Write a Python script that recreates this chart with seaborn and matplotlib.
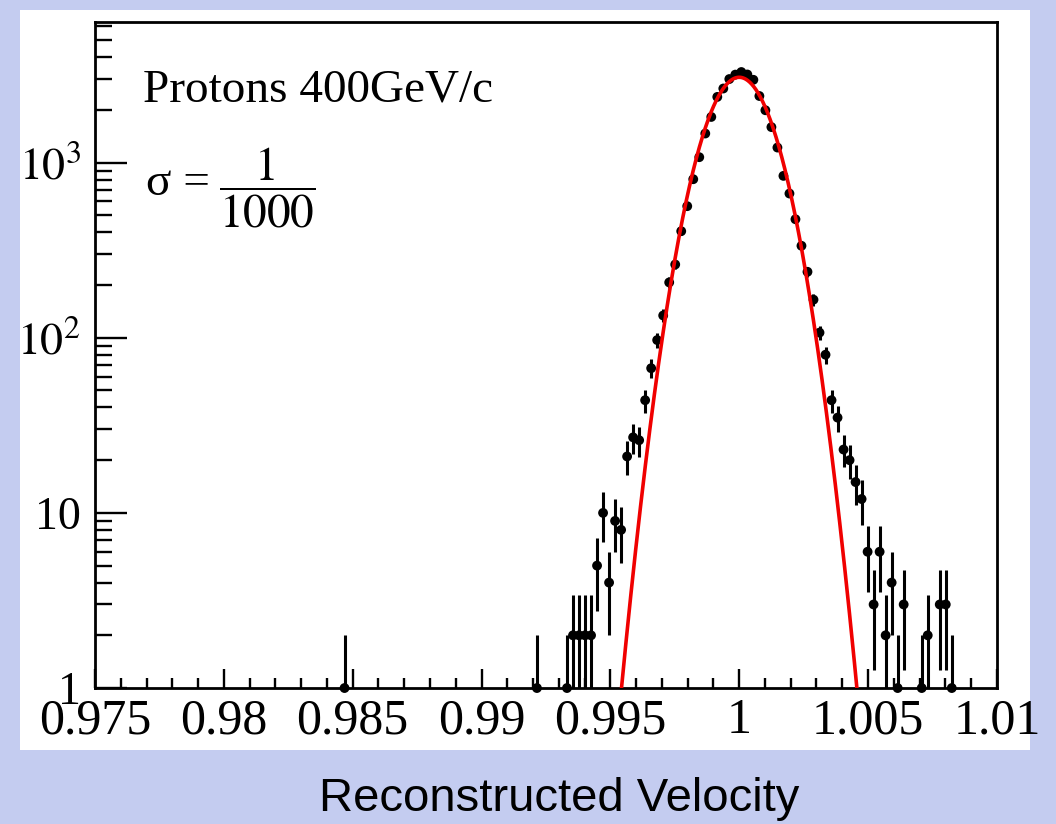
import matplotlib
matplotlib.use('Agg')
import matplotlib.pyplot as plt
import matplotlib.ticker as mticker
from matplotlib.patches import Rectangle
import numpy as np
import pandas as pd
import seaborn as sns

# histogram binning (150 bins between 0.975 and 1.01)
bin_lo = 0.975
bin_hi = 1.01
n_bins = 150

# non-empty bins and their entries
bin_index = [41, 73, 78, 79, 80, 81, 82, 83, 84, 85, 86, 87, 88, 89, 90,
             91, 92, 93, 94, 95, 96, 97, 98, 99, 100, 101, 102, 103, 104,
             105, 106, 107, 108, 109, 110, 111, 112, 113, 114, 115, 116,
             117, 118, 119, 120, 121, 122, 123, 124, 125, 126, 127, 128,
             129, 130, 131, 132, 133, 134, 137, 138, 140, 141, 142]
counts = [1, 1, 1, 2, 2, 2, 2, 5, 10, 4, 9, 8, 21, 27, 26,
          44, 67, 97, 134, 207, 262, 406, 564, 804, 1074, 1466, 1823, 2372, 2649,
          3000, 3180, 3290, 3185, 2970, 2400, 1991, 1595, 1219, 840, 666, 475,
          335, 238, 165, 107, 80, 44, 35, 23, 20, 15, 12, 6,
          3, 6, 2, 4, 1, 3, 1, 2, 3, 3, 1]

# gaussian fit
fit_amp = 3070
fit_mean = 1.0
fit_sigma = 0.00114
fit_range = (0.9952, 1.0047)

x_ticks = [0.975, 0.98, 0.985, 0.99, 0.995, 1.0, 1.005, 1.01]
x_tick_labels = ['0.975', '0.98', '0.985', '0.99', '0.995', '1', '1.005', '1.01']
y_ticks = [1, 10, 100, 1000]
y_tick_labels = ['1', '10', r'$10^{2}$', r'$10^{3}$']

sns.set_style('ticks')
plt.rcParams['font.family'] = ['Liberation Serif', 'DejaVu Serif']
plt.rcParams['mathtext.fontset'] = 'stix'
plt.rcParams['text.color'] = 'black'

width = (bin_hi - bin_lo) / n_bins
df = pd.DataFrame({'velocity': bin_lo + (np.array(bin_index) + 0.5) * width,
                   'entries': np.array(counts, dtype=float)})
df['err'] = np.sqrt(df['entries'])

fig = plt.figure(figsize=(10.56, 8.24), dpi=100)
fig.patch.set_facecolor('#c4ccf0')
fig.add_artist(Rectangle((0.019, 0.09), 0.956, 0.898, transform=fig.transFigure,
                         facecolor='white', edgecolor='none', zorder=0))

ax = fig.add_axes([0.090, 0.165, 0.854, 0.808])
ax.set_facecolor('white')
ax.set_yscale('log')

ax.errorbar(df['velocity'], df['entries'], yerr=df['err'], xerr=width / 2,
            fmt='none', ecolor='black', elinewidth=2.2, capsize=0, zorder=2)
sns.scatterplot(data=df, x='velocity', y='entries', color='black', s=50,
                edgecolor='none', ax=ax, zorder=3, clip_on=False)

xf = np.linspace(fit_range[0], fit_range[1], 500)
yf = fit_amp * np.exp(-0.5 * ((xf - fit_mean) / fit_sigma) ** 2)
sns.lineplot(x=xf, y=yf, color='#f00000', linewidth=2.6, ax=ax, estimator=None,
             sort=False, zorder=4)

ax.set_xlim(bin_lo, bin_hi)
ax.set_ylim(1, 6330)

ax.xaxis.set_major_locator(mticker.FixedLocator(x_ticks))
ax.xaxis.set_major_formatter(mticker.FixedFormatter(x_tick_labels))
ax.xaxis.set_minor_locator(mticker.MultipleLocator(0.001))
ax.yaxis.set_major_locator(mticker.FixedLocator(y_ticks))
ax.yaxis.set_major_formatter(mticker.FixedFormatter(y_tick_labels))
ax.yaxis.set_minor_locator(mticker.LogLocator(base=10, subs=np.arange(2, 10)))
ax.yaxis.set_minor_formatter(mticker.NullFormatter())

ax.tick_params(axis='both', which='both', direction='in', width=1.7,
               color='black', labelcolor='black')
ax.tick_params(axis='x', which='major', length=14, pad=7, labelsize=36)
ax.tick_params(axis='x', which='minor', length=7)
ax.tick_params(axis='y', which='major', length=23, pad=10, labelsize=33)
ax.tick_params(axis='y', which='minor', length=12)

for sp in ax.spines.values():
    sp.set_visible(True)
    sp.set_linewidth(2.0)
    sp.set_color('black')

ax.set_xlabel('')
ax.set_ylabel('')

ax.text(0.053, 0.898, 'Protons 400GeV/c', transform=ax.transAxes,
        fontsize=34, va='center', ha='left')
ax.text(0.057, 0.757, 'σ =', transform=ax.transAxes,
        fontsize=34, va='center', ha='left')
ax.text(0.138, 0.752, r'$\dfrac{1}{1000}$', transform=ax.transAxes,
        fontsize=34, va='center', ha='left')

fig.text(0.530, 0.030, 'Reconstructed Velocity', fontsize=34,
         family=['Liberation Sans', 'DejaVu Sans'], ha='center', va='center')

fig.savefig('out.png', dpi=100, facecolor=fig.get_facecolor())
